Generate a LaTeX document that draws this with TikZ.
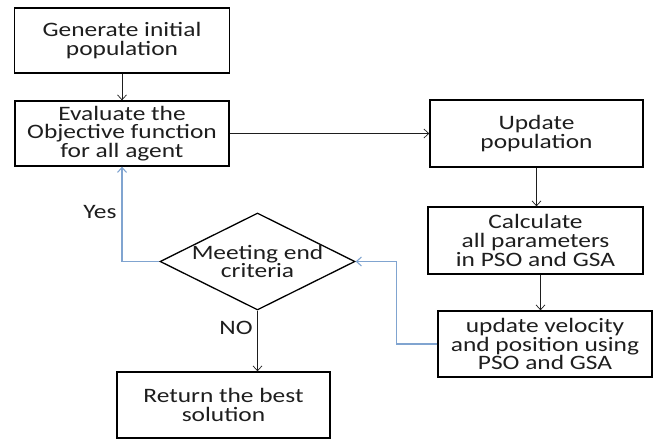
\documentclass[tikz,border=0pt]{standalone}
\usepackage{fontspec}
\setmainfont{Carlito}[FakeStretch=1.24]
\usetikzlibrary{arrows.meta,shapes.geometric}
\definecolor{linkblue}{RGB}{128,164,208}
\definecolor{inkgray}{RGB}{30,30,30}
\tikzset{
  stepbox/.style={draw=black,line width=1.3pt,align=center,inner sep=0pt,text=inkgray},
  arr/.style={draw=inkgray,line width=0.7pt,-{Straight Barb[length=5pt,width=9pt]}},
  yesarr/.style={draw=linkblue,line width=1.1pt,-{Straight Barb[length=5pt,width=9pt]}},
  lbl/.style={text=inkgray,inner sep=0pt}
}
\begin{document}
\begin{tikzpicture}[x=1pt,y=-1pt,font=\fontsize{20.5}{18.8}\selectfont]
  \useasboundingbox (0,0) rectangle (655,441);
  \foreach \n/\x/\y/\w/\h/\t in {gen/122/40.5/215/65/{Generate initial\\population},
      eval/122/133.5/214/65/{Evaluate the\\Objective function\\for all agent},
      upd/536.5/133.5/213/67/{Update\\population},
      calc/535.5/240.5/215/67/{Calculate\\all parameters\\in PSO and GSA},
      vel/545/344/214/66/{update velocity\\and position using\\PSO and GSA},
      ret/223.5/405/213/66/{Return the best\\solution}}
  {
    \node[stepbox,minimum width=\w pt,minimum height=\h pt] (\n) at (\x,\y) {\t};
  }
  \node[diamond,draw=black,line width=1.3pt,minimum width=195pt,minimum height=97pt,inner sep=0pt] (crit) at (257.5,261.5) {};
  \node[lbl,align=center] (critText) at (crit.center) {Meeting end\\criteria};

  \draw[arr] (gen.south) -- (eval.north);
  \draw[arr] (eval.east) -- (upd.west);
  \draw[arr] (upd.south) -- (upd.south |- calc.north);
  \draw[arr] ([xshift=5pt]calc.south) -- ([xshift=5pt]calc.south |- vel.north);
  \draw[yesarr] (vel.west) -- ++(-41,0) |- (crit.east);
  \draw[yesarr] (crit.west) -| (eval.south);
  \draw[arr] (crit.south) -- (crit.south |- ret.north);

  \node[lbl] (yes) at (100,212) {Yes};
  \node[lbl] (no) at (236,328) {NO};
\end{tikzpicture}
\end{document}
